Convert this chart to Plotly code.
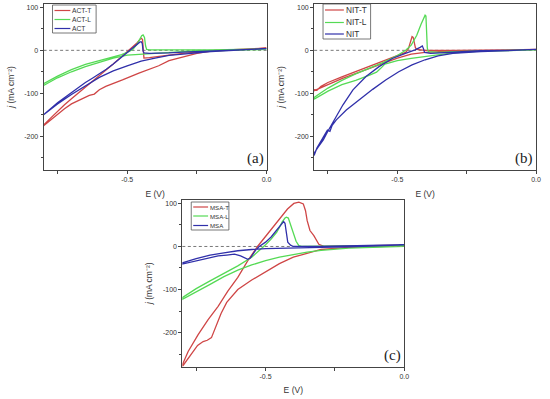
import plotly.graph_objects as go

# ---------------- DATA ----------------
# Panel (a): ACT
act_t_E = [0, -0.1, -0.2, -0.25, -0.3, -0.35, -0.387, -0.458, -0.517, -0.577, -0.6, -0.618, -0.636, -0.65, -0.675, -0.7, -0.725, -0.75, -0.775, -0.8,
           -0.8, -0.775, -0.75, -0.725, -0.7, -0.675, -0.65, -0.625, -0.6, -0.575, -0.55, -0.525, -0.5, -0.48, -0.465, -0.455, -0.449, -0.445, -0.443, -0.44, -0.42, -0.4, -0.35, -0.3, -0.2, -0.1, 0]
act_t_j = [5, 2, -2, -7, -15, -24, -36, -53, -69, -84, -92, -102, -105, -109, -116, -125, -136, -149, -162, -176,
           -174, -158, -142, -127, -113, -99, -85, -72, -59, -45, -32, -18, -4, 7, 17, 25, 28, 25, 5, -18, -17, -15, -11, -7, -1, 2, 5]

act_l_E = [0, -0.1, -0.2, -0.3, -0.35, -0.4, -0.45, -0.5, -0.55, -0.6, -0.65, -0.7, -0.75, -0.8,
           -0.8, -0.75, -0.7, -0.65, -0.6, -0.55, -0.52, -0.5, -0.48, -0.465, -0.455, -0.448, -0.443, -0.438, -0.434, -0.43, -0.42, -0.35, -0.2, 0]
act_l_j = [2, 1, -1, -3, -5, -7, -8, -11, -18, -28, -38, -50, -64, -82,
           -78, -60, -45, -33, -24, -16, -10, -5, 2, 14, 26, 34, 36, 30, 10, 2, 1, 1, 1, 3]

act_E = [0, -0.1, -0.2, -0.25, -0.3, -0.35, -0.4, -0.45, -0.5, -0.55, -0.6, -0.65, -0.7, -0.75, -0.8,
         -0.8, -0.775, -0.75, -0.725, -0.7, -0.675, -0.65, -0.625, -0.6, -0.575, -0.55, -0.525, -0.5, -0.48, -0.465, -0.455, -0.45, -0.446, -0.443, -0.44, -0.42, -0.4, -0.35, -0.3, -0.2, -0.1, 0]
act_j = [4, 1, -3, -6, -9, -12, -18, -25, -36, -48, -63, -82, -103, -125, -150,
         -150, -136, -122, -110, -98, -86, -75, -65, -55, -44, -32, -18, -4, 6, 14, 19, 20, 16, -2, -6, -7, -7, -6, -4, -1, 2, 4]

# Panel (b): NIT
nit_t_E = [0, -0.1, -0.2, -0.3, -0.35, -0.4, -0.45, -0.5, -0.55, -0.6, -0.65, -0.7, -0.75, -0.775, -0.79, -0.8,
           -0.8, -0.79, -0.775, -0.75, -0.7, -0.65, -0.6, -0.55, -0.5, -0.47, -0.46, -0.455, -0.45, -0.447, -0.443, -0.44, -0.435, -0.43, -0.42, -0.4, -0.3, -0.2, -0.1, 0]
nit_t_j = [2, 1, 0, -1, -3, -5, -9, -18, -30, -42, -54, -66, -80, -87, -91, -94,
           -92, -93, -84, -75, -62, -50, -38, -26, -14, -5, 4, 15, 28, 32, 30, 18, 6, 2, 1, 0, 0, 0, 1, 2]

nit_l_E = [0, -0.1, -0.2, -0.3, -0.35, -0.4, -0.45, -0.5, -0.545, -0.56, -0.575, -0.6, -0.65, -0.7, -0.75, -0.8,
           -0.8, -0.75, -0.7, -0.65, -0.6, -0.55, -0.5, -0.47, -0.45, -0.43, -0.415, -0.405, -0.4, -0.397, -0.394, -0.392, -0.388, -0.35, -0.3, -0.2, -0.1, 0]
nit_l_j = [1, 0, -2, -6, -10, -14, -19, -24, -32, -42, -51, -58, -70, -80, -95, -114,
           -110, -88, -70, -55, -42, -28, -12, 0, 12, 35, 60, 78, 82, 80, 40, 5, -3, -5, -3, -1, 0, 1]

nit_E = [0, -0.1, -0.2, -0.3, -0.353, -0.4, -0.447, -0.495, -0.542, -0.589, -0.637, -0.684, -0.72, -0.735, -0.743, -0.752, -0.761, -0.77, -0.779, -0.79, -0.8,
         -0.8, -0.785, -0.767, -0.75, -0.731, -0.696, -0.66, -0.613, -0.566, -0.518, -0.471, -0.436, -0.418, -0.41, -0.406, -0.402, -0.38, -0.35, -0.3, -0.2, -0.1, 0]
nit_j = [2, 0, -3, -7, -13, -22, -34, -50, -69, -91, -115, -139, -162, -175, -189, -186, -196, -205, -216, -228, -245,
         -240, -225, -209, -188, -166, -127, -92, -61, -38, -19, -7, 1, 7, 10, 4, -5, -7, -6, -4, -1, 0, 2]

# Panel (c): MSA
msa_t_E = [0, -0.1, -0.2, -0.3, -0.35, -0.4, -0.45, -0.5, -0.55, -0.6, -0.64, -0.66, -0.68, -0.695, -0.71, -0.725, -0.745, -0.76, -0.78, -0.8,
           -0.8, -0.779, -0.743, -0.707, -0.671, -0.636, -0.6, -0.564, -0.529, -0.493, -0.457, -0.421, -0.398, -0.38, -0.364, -0.356, -0.35, -0.34, -0.326, -0.308, -0.29, -0.16, 0]
msa_t_j = [1.5, -1, -2, -7, -16, -25, -40, -58, -78, -100, -130, -155, -190, -212, -218, -221, -230, -244, -260, -279,
           -275, -244, -205, -170, -139, -104, -72, -33, 0, 29, 60, 87, 100, 103, 99, 83, 60, 37, 25, 5, 0, 1, 3]

msa_l_E = [0, -0.1, -0.2, -0.3, -0.35, -0.4, -0.45, -0.5, -0.55, -0.6, -0.65, -0.7, -0.75, -0.8,
           -0.8, -0.75, -0.7, -0.65, -0.6, -0.55, -0.52, -0.5, -0.48, -0.46, -0.45, -0.44, -0.43, -0.425, -0.418, -0.41, -0.4, -0.39, -0.38, -0.37, -0.3, -0.2, -0.1, 0]
msa_l_j = [0, -2, -4, -9, -13, -19, -25, -33, -43, -55, -70, -88, -105, -123,
           -119, -98, -80, -63, -45, -25, -8, 4, 17, 33, 44, 57, 66, 68, 66, 50, 30, 12, 2, 0, 1, 1, 1, 2]

msa_E = [0, -0.1, -0.2, -0.3, -0.4, -0.5, -0.55, -0.6, -0.65, -0.7, -0.75, -0.8,
         -0.8, -0.75, -0.7, -0.671, -0.64, -0.612, -0.59, -0.575, -0.564, -0.555, -0.545, -0.535, -0.523, -0.5, -0.48, -0.46, -0.45, -0.44, -0.435, -0.43, -0.425, -0.42, -0.41, -0.4, -0.3, -0.2, -0.1, 0]
msa_j = [4, 1, -1, -2, -3, -5, -7, -10, -15, -20, -28, -38,
         -41, -33, -26, -22, -20, -18, -22, -27, -30, -27, -17, -8, 0, 10, 22, 38, 47, 55, 58, 54, 30, 10, 3, 0, 0, 1, 2, 4]

series_names = [["ACT-T", "ACT-L", "ACT"], ["NIT-T", "NIT-L", "NIT"], ["MSA-T", "MSA-L", "MSA"]]
panel_labels = ["(a)", "(b)", "(c)"]
x_tickvals = [-0.5, 0.0]
x_ticktext = ["-0.5", "0.0"]
x_minorvals = [-0.75, -0.25]
y_tickvals = [100, 0, -100, -200]
y_ticktext = ["100", "0", "-100", "-200"]
y_minorvals = [50, -50, -150, -250]

# ---------------- STYLE ----------------
RED, GREEN, BLUE = "#cf4646", "#55da55", "#3030aa"
colors = [RED, GREEN, BLUE]
FONT = "Arial, Liberation Sans, sans-serif"

data = [
    [(act_t_E, act_t_j), (act_l_E, act_l_j), (act_E, act_j)],
    [(nit_t_E, nit_t_j), (nit_l_E, nit_l_j), (nit_E, nit_j)],
    [(msa_t_E, msa_t_j), (msa_l_E, msa_l_j), (msa_E, msa_j)],
]

W, H = 550, 399
# plot areas in pixels: (left, right, top, bottom)
boxes = [(44, 269, 4, 170), (317, 541, 4, 170), (184, 408, 200, 366.5)]
# legend boxes: (left, right, top, bottom, entry y list, sample x0, sample x1, text x, font size)
legends = [
    (53, 97, 5, 33, [10.5, 19.5, 28.5], 55, 71, 73, 6.7),
    (326, 374, 4, 39, [10, 22.5, 34], 328, 347, 349, 8.3),
    (193, 231, 202, 230, [207, 216, 225.5], 195, 210, 212, 6.1),
]

def px(x):
    return x / W

def py(y):
    return 1 - y / H

fig = go.Figure()
layout = dict(width=W, height=H, autosize=False, margin=dict(l=0, r=0, t=0, b=0),
              plot_bgcolor="white", paper_bgcolor="white", showlegend=False,
              font=dict(family=FONT, color="#333"))
shapes, annotations = [], []

for p in range(3):
    sfx = "" if p == 0 else str(p + 1)
    for k in range(3):
        E, j = data[p][k]
        fig.add_trace(go.Scatter(x=E, y=j, mode="lines", name=series_names[p][k],
                                 line=dict(color=colors[k], width=1.3),
                                 xaxis="x" + sfx, yaxis="y" + sfx))
    l, r, t, b = boxes[p]
    axcommon = dict(showline=True, mirror=True, linecolor="#444", linewidth=1, showgrid=False,
                    zeroline=False, ticks="outside", ticklen=3, tickcolor="#444",
                    tickfont=dict(size=7, color="#333", family=FONT))
    layout["xaxis" + sfx] = dict(axcommon, domain=[px(l), px(r)], range=[-0.8, 0.0], anchor="y" + sfx,
                                 tickmode="array", tickvals=x_tickvals, ticktext=x_ticktext,
                                 minor=dict(tickmode="array", tickvals=x_minorvals, ticks="outside", ticklen=3, tickcolor="#444"),
                                 title=dict(text="E (V)", font=dict(size=8.5, color="#333"), standoff=8))
    layout["yaxis" + sfx] = dict(axcommon, domain=[py(b), py(t)], range=[-279, 108], anchor="x" + sfx,
                                 tickmode="array", tickvals=y_tickvals, ticktext=y_ticktext,
                                 minor=dict(tickmode="array", tickvals=y_minorvals, ticks="outside", ticklen=2, tickcolor="#444"),
                                 title=dict(text="<i>j</i> (mA cm⁻²)", font=dict(size=8.5, color="#333"), standoff=8))
    shapes.append(dict(type="line", xref="x" + sfx + " domain", yref="y" + sfx, x0=0, x1=1, y0=0, y1=0,
                       line=dict(color="#555", width=0.8, dash="3px,2.5px"), layer="below"))
    annotations.append(dict(text=panel_labels[p], xref="x" + sfx + " domain", yref="y" + sfx + " domain",
                            x=1, y=0, xanchor="right", yanchor="bottom", xshift=-1, yshift=1, showarrow=False,
                            font=dict(family="Liberation Serif, Times New Roman, serif", size=15, color="#222")))
    # legend (box, line samples, labels)
    lx0, lx1, ly0, ly1, ys, sx0, sx1, tx, fs = legends[p]
    shapes.append(dict(type="rect", xref="paper", yref="paper", x0=px(lx0), x1=px(lx1), y0=py(ly1), y1=py(ly0),
                       line=dict(color="#555", width=0.8), fillcolor="white", layer="above"))
    for k in range(3):
        shapes.append(dict(type="line", xref="paper", yref="paper", x0=px(sx0), x1=px(sx1),
                           y0=py(ys[k]), y1=py(ys[k]), line=dict(color=colors[k], width=1.2), layer="above"))
        annotations.append(dict(text=series_names[p][k], xref="paper", yref="paper", x=px(tx), y=py(ys[k]),
                                xanchor="left", yanchor="middle", xshift=-2, showarrow=False,
                                font=dict(size=fs, color="#333", family=FONT)))

layout["shapes"] = shapes
layout["annotations"] = annotations
fig.update_layout(**layout)
fig.write_html("out.html", config={"displayModeBar": False},
               post_script="document.body.style.margin='0px';")
